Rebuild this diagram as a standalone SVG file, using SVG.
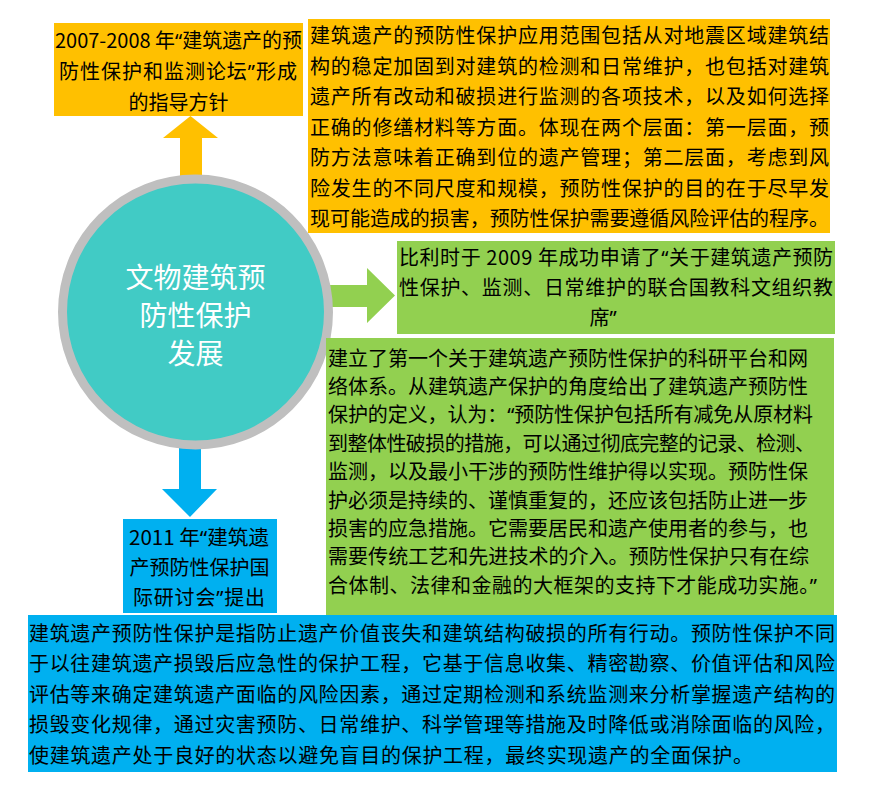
<svg xmlns="http://www.w3.org/2000/svg" width="876" height="790" viewBox="0 0 876 790">
<style>
.t{font-family:"Noto Sans CJK SC","Noto Sans",sans-serif;font-size:20px;fill:#000}
.c{text-anchor:middle}
.q{font-family:"Noto Sans","Liberation Sans",sans-serif}
.w{font-family:"Noto Sans CJK SC","Noto Sans",sans-serif;font-size:28px;fill:#fff;text-anchor:middle}
.or{fill:#FFC000}
.gr{fill:#92D050}
.bl{fill:#00B0F0}
</style>
<rect width="876" height="790" fill="#fff"/>
<g id="connectors">
<polygon class="or" points="180,178 180,138 163,138 190.5,116 218,138 202,138 202,178"/>
<polygon class="gr" points="328,285 367,285 367,268 395,295.5 367,323 367,307 328,307"/>
<polygon class="bl" points="179,446 201,446 201,489 217,489 190,517 162,489 179,489"/>
</g>
<g id="node-center">
<circle cx="195.5" cy="312" r="133" fill="#41CBC5" stroke="#BFBFBF" stroke-width="9"/>
<text class="w" x="195.5" y="287.5">文物建筑预</text>
<text class="w" x="195.5" y="325.5">防性保护</text>
<text class="w" x="195.5" y="363.5">发展</text>
</g>
<g id="node-top">
<rect class="or" x="54" y="23" width="249" height="93"/>
<text class="t c" x="178.5" y="47.5" textLength="247" lengthAdjust="spacingAndGlyphs">2007-2008 年<tspan class="q">“</tspan>建筑遗产的预</text>
<text class="t c" x="178" y="78.5" textLength="238">防性保护和监测论坛<tspan class="q">”</tspan>形成</text>
<text class="t c" x="178.5" y="109.5">的指导方针</text>
</g>
<g id="node-top-desc">
<rect class="or" x="308" y="19" width="522" height="214"/>
<text class="t" x="310" y="43" textLength="519">建筑遗产的预防性保护应用范围包括从对地震区域建筑结</text>
<text class="t" x="310" y="73.5" textLength="519">构的稳定加固到对建筑的检测和日常维护，也包括对建筑</text>
<text class="t" x="310" y="104" textLength="519">遗产所有改动和破损进行监测的各项技术，以及如何选择</text>
<text class="t" x="310" y="134.5" textLength="519">正确的修缮材料等方面。体现在两个层面：第一层面，预</text>
<text class="t" x="310" y="165" textLength="519">防方法意味着正确到位的遗产管理；第二层面，考虑到风</text>
<text class="t" x="310" y="195.5" textLength="519">险发生的不同尺度和规模，预防性保护的目的在于尽早发</text>
<text class="t" x="310" y="226" textLength="519">现可能造成的损害，预防性保护需要遵循风险评估的程序。</text>
</g>
<g id="node-right">
<rect class="gr" x="397" y="241" width="438" height="93"/>
<text class="t" x="399" y="264.5" textLength="434">比利时于 2009 年成功申请了<tspan class="q">“</tspan>关于建筑遗产预防</text>
<text class="t" x="399" y="294.5" textLength="434">性保护、监测、日常维护的联合国教科文组织教</text>
<text class="t c" x="603" y="325">席<tspan class="q">”</tspan></text>
</g>
<g id="node-right-desc">
<rect class="gr" x="326" y="338" width="508" height="277"/>
<text class="t" x="328" y="365.6" textLength="480">建立了第一个关于建筑遗产预防性保护的科研平台和网</text>
<text class="t" x="328" y="394" textLength="480">络体系。从建筑遗产保护的角度给出了建筑遗产预防性</text>
<text class="t" x="328" y="422.4" textLength="485">保护的定义，认为：<tspan class="q">“</tspan>预防性保护包括所有减免从原材料</text>
<text class="t" x="328" y="450.8" textLength="487">到整体性破损的措施，可以通过彻底完整的记录、检测、</text>
<text class="t" x="328" y="479.2" textLength="480">监测，以及最小干涉的预防性维护得以实现。预防性保</text>
<text class="t" x="328" y="507.6" textLength="480">护必须是持续的、谨慎重复的，还应该包括防止进一步</text>
<text class="t" x="328" y="536" textLength="480">损害的应急措施。它需要居民和遗产使用者的参与，也</text>
<text class="t" x="328" y="564.4" textLength="481">需要传统工艺和先进技术的介入。预防性保护只有在综</text>
<text class="t" x="328" y="592.8" textLength="489">合体制、法律和金融的大框架的支持下才能成功实施。<tspan class="q">”</tspan></text>
</g>
<g id="node-bottom">
<rect class="bl" x="123" y="519" width="154" height="94"/>
<text class="t c" x="199" y="544.6" textLength="140" lengthAdjust="spacingAndGlyphs">2011 年<tspan class="q">“</tspan>建筑遗</text>
<text class="t c" x="199.5" y="574.6">产预防性保护国</text>
<text class="t c" x="199" y="605" textLength="132">际研讨会<tspan class="q">”</tspan>提出</text>
</g>
<g id="node-bottom-desc">
<rect class="bl" x="28" y="615" width="809" height="157"/>
<text class="t" x="29" y="640.5" textLength="806">建筑遗产预防性保护是指防止遗产价值丧失和建筑结构破损的所有行动。预防性保护不同</text>
<text class="t" x="29" y="671" textLength="806">于以往建筑遗产损毁后应急性的保护工程，它基于信息收集、精密勘察、价值评估和风险</text>
<text class="t" x="29" y="701.5" textLength="806">评估等来确定建筑遗产面临的风险因素，通过定期检测和系统监测来分析掌握遗产结构的</text>
<text class="t" x="29" y="732" textLength="806">损毁变化规律，通过灾害预防、日常维护、科学管理等措施及时降低或消除面临的风险，</text>
<text class="t" x="29" y="762.5" textLength="724">使建筑遗产处于良好的状态以避免盲目的保护工程，最终实现遗产的全面保护。</text>
</g>
</svg>
